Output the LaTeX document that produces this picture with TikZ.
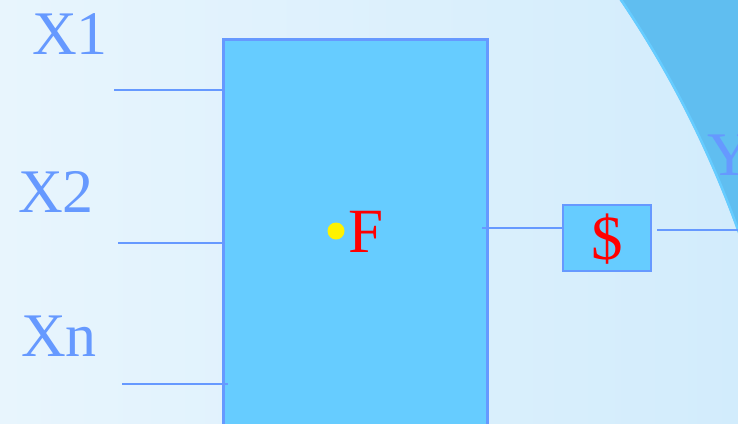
\documentclass[tikz,border=0pt]{standalone}
\usepackage{fontspec}
\setmainfont{Liberation Serif}
\definecolor{bgL}{HTML}{E8F5FD}
\definecolor{bgR}{HTML}{D2ECFC}
\definecolor{arcfill}{HTML}{60BEF0}
\definecolor{arcedge}{HTML}{66CCFF}
\definecolor{boxfill}{HTML}{66CCFF}
\definecolor{lineblue}{HTML}{6699FF}
\definecolor{txtblue}{HTML}{6699FF}
\tikzset{
  blk/.style={draw=lineblue, fill=boxfill, line width=2.5pt, inner sep=0pt},
  wire/.style={draw=lineblue, line width=1.8pt},
  lbl/.style={text=txtblue, inner sep=0pt, anchor=base west, font=\fontsize{62}{70}\selectfont},
  redtxt/.style={text=red, inner sep=0pt, font=\fontsize{63}{70}\selectfont}
}
\begin{document}
\begin{tikzpicture}[x=1pt,y=-1pt]
\useasboundingbox (0,0) rectangle (738,423);
\clip (0,0) rectangle (738,423);
\shade[left color=bgL, right color=bgR] (0,0) rectangle (738,423);
% big arc region
\fill[arcfill, even odd rule] (-1200,-1200) rectangle (1000,1000) (-241.5,583) circle[radius=1040];
\draw[arcedge, line width=2.5pt] (-241.5,583) circle[radius=1041];
% main block
\node[blk, minimum width=264pt, minimum height=440pt, anchor=north west] (F) at (222,38) {};
\fill[yellow] (336,231) circle[radius=8.5];
\node[redtxt, anchor=base west] (Ft) at (348,252) {F};
% dollar block
\node[blk, minimum width=88pt, minimum height=66pt] (D) at (607,238) {};
\node[redtxt, anchor=base] (Dt) at (607,259) {\$};
% labels
\node[lbl] (X1) at (32,54) {X1};
\node[lbl] (X2) at (18,212) {X2};
\node[lbl] (Xn) at (21,356) {Xn};
\node[lbl] (Y) at (707,175) {Y};
% wires
\coordinate (a1) at (114,90);
\coordinate (a2) at (118,243);
\coordinate (a3) at (122,384);
\coordinate (o1) at (482,228);
\coordinate (o2) at (738,230);
\draw[wire] (a1) -- (a1 -| F.west);
\draw[wire] (a2) -- (a2 -| F.west);
\draw[wire] (a3) -- ([xshift=6pt]a3 -| F.west);
\draw[wire] (o1) -- (o1 -| D.west);
\draw[wire] ([xshift=5pt]D.east |- o2) -- (o2);
\end{tikzpicture}
\end{document}
